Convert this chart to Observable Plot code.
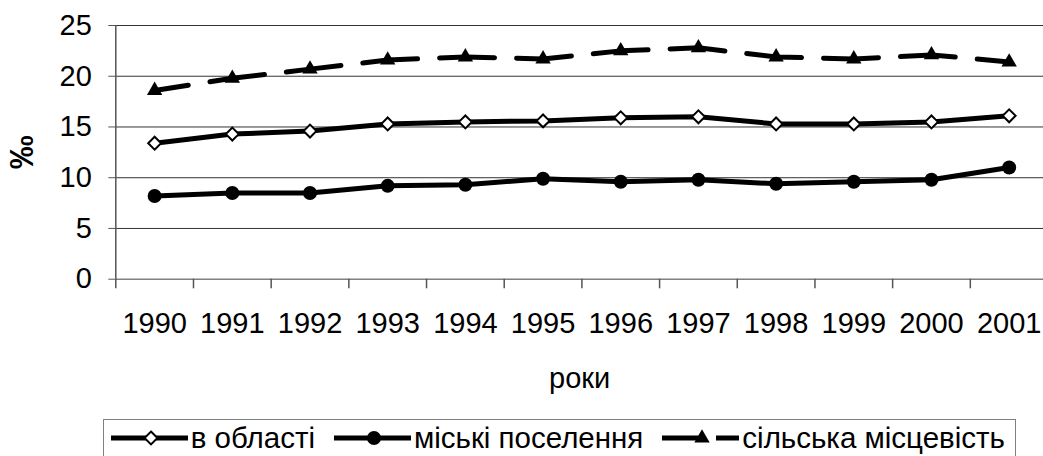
<!DOCTYPE html>
<html>
<head>
<meta charset="utf-8">
<script src="https://cdn.jsdelivr.net/npm/d3@7"></script>
<script src="https://cdn.jsdelivr.net/npm/@observablehq/plot@0.6"></script>
<style>
  html, body { margin: 0; padding: 0; background: #fff; }
  body { width: 1043px; height: 456px; overflow: hidden; font-family: Arial, "Liberation Sans", sans-serif; }
  #chart svg { display: block; }
  g[aria-label="y-axis label"] text { font-weight: bold; font-size: 34px; }
  #legend {
    margin-top: 14.3px; margin-left: 102.7px; width: 913px; height: 46px; box-sizing: border-box;
    border: 1px solid #808080; display: flex; align-items: center;
    padding-left: 7px; padding-bottom: 8px; font-size: 29.5px; color: #000; white-space: nowrap;
  }
  #legend .item { display: flex; align-items: center; margin-right: 19px; }
  #legend .item span { margin-left: 3px; }
  #legend svg { display: block; }
</style>
</head>
<body>
<div id="chart"></div>
<div id="legend"></div>
<script>
// ---- data ----
const years = [1990, 1991, 1992, 1993, 1994, 1995, 1996, 1997, 1998, 1999, 2000, 2001];
const oblast = [13.4, 14.3, 14.6, 15.3, 15.5, 15.6, 15.9, 16.0, 15.3, 15.3, 15.5, 16.1];
const urban  = [8.2, 8.5, 8.5, 9.2, 9.3, 9.9, 9.6, 9.8, 9.4, 9.6, 9.8, 11.0];
const rural  = [18.6, 19.8, 20.7, 21.6, 21.9, 21.7, 22.5, 22.8, 21.9, 21.7, 22.1, 21.4];
const seriesNames = ["в області", "міські поселення", "сільська місцевість"];
const yTicks = [0, 5, 10, 15, 20, 25];
const xLabel = "роки";
const yLabel = "‰";

// ---- build tables ----
const toRows = (vals, name) => vals.map((v, i) => ({year: years[i], value: v, series: name}));
const rowsOblast = toRows(oblast, seriesNames[0]);
const rowsUrban = toRows(urban, seriesNames[1]);
const rowsRural = toRows(rural, seriesNames[2]);
const boundaries = years.map(y => y - 0.5).concat([years[years.length - 1] + 0.5]);

const font = "Arial, 'Liberation Sans', sans-serif";
const lineW = 5;
const dash = "55,22";

const styles = [
  {symbol: "diamond2", fill: "#fff", stroke: "#000", strokeWidth: 2, r: 5.8, dash: null},
  {symbol: "circle", fill: "#000", stroke: "none", strokeWidth: 0, r: 7, dash: null},
  {symbol: "triangle", fill: "#000", stroke: "none", strokeWidth: 0, r: 5.7, dash: dash}
];

const chart = Plot.plot({
  width: 1043,
  height: 405,
  marginLeft: 115.3,
  marginRight: 0,
  marginTop: 25,
  marginBottom: 126.3,
  style: {fontFamily: font, fontSize: "29px", color: "#000", background: "#fff", overflow: "hidden"},
  x: {type: "linear", domain: [boundaries[0], boundaries[boundaries.length - 1]], range: [115.3, 1047.5]},
  y: {domain: [yTicks[0], yTicks[yTicks.length - 1]], range: [278.7, 25]},
  marks: [
    Plot.ruleY(yTicks.filter(d => d > 0), {stroke: "#000", strokeWidth: 1, strokeOpacity: 0.8}),
    Plot.ruleY([yTicks[0]], {stroke: "#808080", strokeWidth: 1.5}),
    Plot.ruleX([boundaries[0]], {y1: yTicks[0], y2: yTicks[yTicks.length - 1], stroke: "#555", strokeWidth: 1.5}),
    Plot.ruleX(boundaries, {y1: 0, y2: 0, insetBottom: -9.6, stroke: "#555", strokeWidth: 1.5}),
    Plot.axisY(yTicks, {
      tickSize: 7, tickPadding: 17, fontSize: 29, stroke: "#555",
      label: yLabel, labelAnchor: "center", labelOffset: 107, labelArrow: "none"
    }),
    Plot.axisX(years, {
      tickSize: 0, tickPadding: 33, fontSize: 29, tickFormat: d => String(d),
      label: xLabel, labelAnchor: "center", labelOffset: 109, labelArrow: "none"
    }),
    Plot.line(rowsRural, {x: "year", y: "value", stroke: "#000", strokeWidth: lineW, strokeDasharray: dash, strokeDashoffset: 21}),
    Plot.line(rowsOblast, {x: "year", y: "value", stroke: "#000", strokeWidth: lineW}),
    Plot.line(rowsUrban, {x: "year", y: "value", stroke: "#000", strokeWidth: lineW}),
    Plot.dot(rowsOblast, {x: "year", y: "value", symbol: styles[0].symbol, fill: styles[0].fill, stroke: styles[0].stroke, strokeWidth: styles[0].strokeWidth, r: styles[0].r}),
    Plot.dot(rowsUrban, {x: "year", y: "value", symbol: styles[1].symbol, fill: styles[1].fill, stroke: styles[1].stroke, r: styles[1].r}),
    Plot.dot(rowsRural, {x: "year", y: "value", symbol: styles[2].symbol, fill: styles[2].fill, stroke: styles[2].stroke, r: styles[2].r})
  ]
});
document.getElementById("chart").appendChild(chart);

// ---- legend ----
const symbolTypes = {diamond2: d3.symbolDiamond2, circle: d3.symbolCircle, triangle: d3.symbolTriangle};
const legend = d3.select("#legend");
seriesNames.forEach((name, i) => {
  const s = styles[i];
  const item = legend.append("div").attr("class", "item");
  const sw = item.append("svg").attr("width", 77).attr("height", 24);
  sw.append("line").attr("x1", 0).attr("x2", 77).attr("y1", 12).attr("y2", 12)
    .attr("stroke", "#000").attr("stroke-width", lineW)
    .attr("stroke-dasharray", s.dash ? "40,14" : null);
  sw.append("path")
    .attr("transform", "translate(40,12)")
    .attr("d", d3.symbol(symbolTypes[s.symbol], Math.PI * s.r * s.r)())
    .attr("fill", s.fill).attr("stroke", s.stroke).attr("stroke-width", s.strokeWidth || null);
  item.append("span").text(name);
});
</script>
</body>
</html>
